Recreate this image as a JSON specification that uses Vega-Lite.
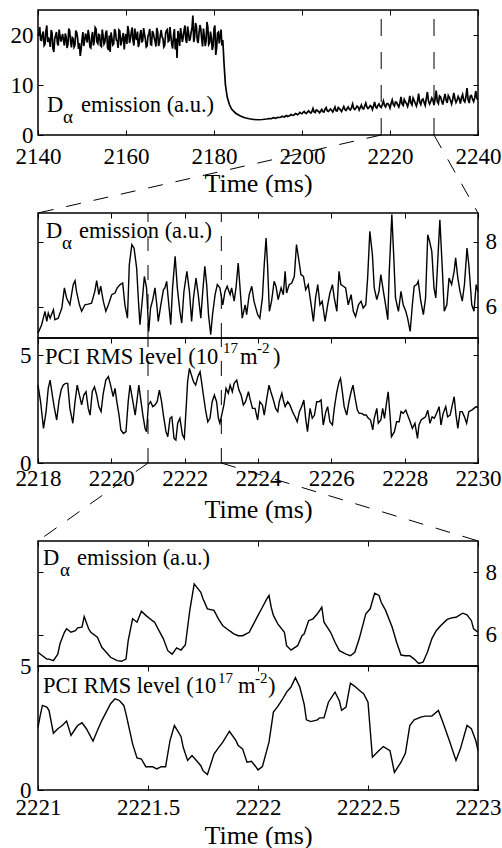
{
"$schema": "https://vega.github.io/schema/vega-lite/v6.json",
"padding": {"left": 9, "top": 8, "right": 0, "bottom": 0},
"config": {
 "font": "Liberation Serif",
 "style": {"guide-label": {"font": "Liberation Serif", "fontSize": 23, "fill": "black"}, "guide-title": {"font": "Liberation Serif", "fontSize": 26, "fill": "black", "fontWeight": "normal"}},
 "view": {"stroke": "black", "strokeWidth": 1.5},
 "axis": {"domain": false, "grid": false, "ticks": true, "tickColor": "black", "tickSize": -5, "tickWidth": 1, "labelFont": "Liberation Serif", "labelFontSize": 23, "labelColor": "black", "labelFlush": false, "labelOverlap": false, "titleFont": "Liberation Serif", "titleFontSize": 26, "titleFontWeight": "normal", "titleColor": "black"},
 "text": {"font": "Liberation Serif", "fontSize": 22.5, "color": "black", "align": "left", "baseline": "alphabetic"},
 "rule": {"color": "black"},
 "line": {"color": "black"}
},
"datasets": {
 "p1": [
  {"t":2140.0,"v":19.8},{"t":2140.4,"v":21.6},{"t":2140.8,"v":18.9},{"t":2141.2,"v":20.7},{"t":2141.6,"v":18.2},{"t":2142.0,"v":21.9},{"t":2142.4,"v":19.5},{"t":2142.8,"v":17.6},{"t":2143.2,"v":20.4},{"t":2143.6,"v":16.6},{"t":2144.0,"v":19.9},{"t":2144.4,"v":18.4},{"t":2144.8,"v":21.1},{"t":2145.2,"v":18.7},{"t":2145.6,"v":20.2},{"t":2146.0,"v":17.9},{"t":2146.4,"v":19.6},{"t":2146.8,"v":18.1},{"t":2147.2,"v":20.8},{"t":2147.6,"v":17.5},{"t":2148.0,"v":19.3},{"t":2148.4,"v":18.0},{"t":2148.8,"v":20.5},{"t":2149.2,"v":17.2},{"t":2149.6,"v":15.8},{"t":2150.0,"v":19.1},{"t":2150.4,"v":17.8},{"t":2150.8,"v":20.3},{"t":2151.2,"v":18.5},{"t":2151.6,"v":19.9},{"t":2152.0,"v":17.4},{"t":2152.4,"v":20.6},{"t":2152.8,"v":18.8},{"t":2153.2,"v":21.2},{"t":2153.6,"v":18.3},{"t":2154.0,"v":20.0},{"t":2154.4,"v":17.7},{"t":2154.8,"v":19.8},{"t":2155.2,"v":18.6},{"t":2155.6,"v":20.9},{"t":2156.0,"v":17.0},{"t":2156.4,"v":16.6},{"t":2156.8,"v":19.4},{"t":2157.2,"v":18.2},{"t":2157.6,"v":20.7},{"t":2158.0,"v":18.9},{"t":2158.4,"v":21.0},{"t":2158.8,"v":17.9},{"t":2159.2,"v":19.7},{"t":2159.6,"v":17.1},{"t":2160.0,"v":20.2},{"t":2160.4,"v":21.8},{"t":2160.8,"v":18.4},{"t":2161.2,"v":20.5},{"t":2161.6,"v":18.8},{"t":2162.0,"v":21.3},{"t":2162.4,"v":19.0},{"t":2162.8,"v":17.6},{"t":2163.2,"v":20.1},{"t":2163.6,"v":18.5},{"t":2164.0,"v":21.4},{"t":2164.4,"v":19.2},{"t":2164.8,"v":17.8},{"t":2165.2,"v":20.3},{"t":2165.6,"v":18.1},{"t":2166.0,"v":20.8},{"t":2166.4,"v":19.5},{"t":2166.8,"v":17.7},{"t":2167.2,"v":20.6},{"t":2167.6,"v":18.4},{"t":2168.0,"v":21.0},{"t":2168.4,"v":19.3},{"t":2168.8,"v":17.9},{"t":2169.2,"v":20.9},{"t":2169.6,"v":18.7},{"t":2170.0,"v":21.6},{"t":2170.4,"v":18.2},{"t":2170.8,"v":19.9},{"t":2171.2,"v":17.1},{"t":2171.6,"v":15.4},{"t":2172.0,"v":19.8},{"t":2172.4,"v":21.4},{"t":2172.8,"v":18.6},{"t":2173.2,"v":20.9},{"t":2173.6,"v":19.1},{"t":2174.0,"v":21.7},{"t":2174.4,"v":18.8},{"t":2174.8,"v":20.5},{"t":2175.2,"v":23.9},{"t":2175.6,"v":19.6},{"t":2176.0,"v":21.8},{"t":2176.4,"v":18.4},{"t":2176.8,"v":22.0},{"t":2177.2,"v":19.2},{"t":2177.6,"v":21.3},{"t":2178.0,"v":17.8},{"t":2178.4,"v":22.6},{"t":2178.8,"v":18.1},{"t":2179.2,"v":20.7},{"t":2179.6,"v":17.0},{"t":2180.0,"v":21.2},{"t":2180.4,"v":16.0},{"t":2180.8,"v":20.4},{"t":2181.2,"v":18.3},{"t":2181.6,"v":21.1},{"t":2182.0,"v":19.0},
  {"t":2140.2,"v":20.3},{"t":2140.6,"v":19.0},{"t":2141.0,"v":20.1},{"t":2141.4,"v":17.9},{"t":2141.8,"v":20.8},{"t":2142.2,"v":18.6},{"t":2142.6,"v":18.8},{"t":2143.0,"v":21.0},{"t":2143.4,"v":17.3},{"t":2143.8,"v":19.2},{"t":2144.2,"v":20.6},{"t":2144.6,"v":17.9},{"t":2145.0,"v":19.8},{"t":2145.4,"v":19.4},{"t":2145.8,"v":18.8},{"t":2146.2,"v":20.3},{"t":2146.6,"v":17.4},{"t":2147.0,"v":21.3},{"t":2147.4,"v":18.7},{"t":2147.8,"v":19.5},{"t":2148.2,"v":17.6},{"t":2148.6,"v":20.9},{"t":2149.0,"v":19.4},{"t":2149.4,"v":18.4},{"t":2149.8,"v":17.1},{"t":2150.2,"v":20.6},{"t":2150.6,"v":18.9},{"t":2151.0,"v":19.5},{"t":2151.4,"v":21.0},{"t":2151.8,"v":17.6},{"t":2152.2,"v":19.6},{"t":2152.6,"v":17.9},{"t":2153.0,"v":21.5},{"t":2153.4,"v":18.6},{"t":2153.8,"v":20.1},{"t":2154.2,"v":17.9},{"t":2154.6,"v":21.1},{"t":2155.0,"v":18.2},{"t":2155.4,"v":20.4},{"t":2155.8,"v":17.5},{"t":2156.2,"v":19.9},{"t":2156.6,"v":20.5},{"t":2157.0,"v":18.0},{"t":2157.4,"v":21.2},{"t":2157.8,"v":19.0},{"t":2158.2,"v":17.4},{"t":2158.6,"v":20.8},{"t":2159.0,"v":18.6},{"t":2159.4,"v":20.4},{"t":2159.8,"v":19.4},{"t":2160.2,"v":18.2},{"t":2160.6,"v":20.9},{"t":2161.0,"v":19.2},{"t":2161.4,"v":21.5},{"t":2161.8,"v":17.9},{"t":2162.2,"v":19.6},{"t":2162.6,"v":20.7},{"t":2163.0,"v":18.3},{"t":2163.4,"v":21.0},{"t":2163.8,"v":18.9},{"t":2164.2,"v":20.2},{"t":2164.6,"v":17.6},{"t":2165.0,"v":19.8},{"t":2165.4,"v":21.2},{"t":2165.8,"v":18.0},{"t":2166.2,"v":20.4},{"t":2166.6,"v":18.8},{"t":2167.0,"v":21.4},{"t":2167.4,"v":17.8},{"t":2167.8,"v":20.0},{"t":2168.2,"v":19.6},{"t":2168.6,"v":17.6},{"t":2169.0,"v":20.3},{"t":2169.4,"v":21.1},{"t":2169.8,"v":18.9},{"t":2170.2,"v":19.7},{"t":2170.6,"v":17.3},{"t":2171.0,"v":21.2},{"t":2171.4,"v":19.3},{"t":2171.8,"v":20.8},{"t":2172.2,"v":17.8},{"t":2172.6,"v":20.2},{"t":2173.0,"v":19.6},{"t":2173.4,"v":21.9},{"t":2173.8,"v":18.4},{"t":2174.2,"v":20.6},{"t":2174.6,"v":19.3},{"t":2175.0,"v":21.4},{"t":2175.4,"v":18.6},{"t":2175.8,"v":22.4},{"t":2176.2,"v":18.9},{"t":2176.6,"v":20.4},{"t":2177.0,"v":21.2},{"t":2177.4,"v":17.7},{"t":2177.8,"v":19.9},{"t":2178.2,"v":18.8},{"t":2178.6,"v":21.6},{"t":2179.0,"v":18.4},{"t":2179.4,"v":19.5},{"t":2179.8,"v":17.8},{"t":2180.2,"v":21.9},{"t":2180.6,"v":17.4},{"t":2181.0,"v":20.6},{"t":2181.4,"v":19.9},{"t":2181.8,"v":17.9},
  {"t":2182.3,"v":14.0},{"t":2182.6,"v":10.0},{"t":2183.0,"v":7.6},{"t":2183.5,"v":6.1},{"t":2184.0,"v":5.2},{"t":2184.5,"v":4.7},{"t":2185.0,"v":4.3},{"t":2186.0,"v":3.8},{"t":2187.0,"v":3.45},{"t":2188.0,"v":3.25},{"t":2189.0,"v":3.1},{"t":2190.0,"v":3.05},{"t":2191.0,"v":3.1},
  {"t":2191.5,"v":3.15},{"t":2192.0,"v":3.2},{"t":2192.5,"v":3.3},{"t":2193.0,"v":3.25},{"t":2193.5,"v":3.45},{"t":2194.0,"v":3.35},{"t":2194.5,"v":3.55},{"t":2195.0,"v":3.5},{"t":2195.5,"v":3.75},{"t":2196.0,"v":3.6},{"t":2196.5,"v":3.9},{"t":2197.0,"v":3.8},{"t":2197.5,"v":4.1},{"t":2198.0,"v":3.95},{"t":2198.5,"v":4.3},{"t":2199.0,"v":4.05},{"t":2199.5,"v":4.5},{"t":2200.0,"v":4.25},{"t":2200.5,"v":4.7},{"t":2201.0,"v":4.3},{"t":2201.5,"v":4.85},{"t":2202.0,"v":4.4},{"t":2202.5,"v":5.3},{"t":2203.0,"v":4.5},{"t":2203.5,"v":4.9},{"t":2204.0,"v":4.45},{"t":2204.5,"v":5.1},{"t":2205.0,"v":4.6},{"t":2205.5,"v":5.5},{"t":2206.0,"v":4.7},{"t":2206.5,"v":5.2},{"t":2207.0,"v":4.6},{"t":2207.5,"v":5.6},{"t":2208.0,"v":4.8},{"t":2208.5,"v":5.3},{"t":2209.0,"v":4.7},{"t":2209.5,"v":5.7},{"t":2210.0,"v":4.9},{"t":2210.5,"v":5.6},{"t":2211.0,"v":5.0},{"t":2211.5,"v":6.2},{"t":2212.0,"v":5.1},{"t":2212.5,"v":5.8},{"t":2213.0,"v":5.0},{"t":2213.5,"v":6.0},{"t":2214.0,"v":5.2},{"t":2214.5,"v":6.4},{"t":2215.0,"v":5.3},{"t":2215.5,"v":5.9},{"t":2216.0,"v":5.1},{"t":2216.5,"v":6.6},{"t":2217.0,"v":5.4},{"t":2217.5,"v":6.2},{"t":2218.0,"v":5.5},{"t":2218.5,"v":6.8},{"t":2219.0,"v":5.6},{"t":2219.5,"v":6.3},{"t":2220.0,"v":5.4},{"t":2220.5,"v":7.0},{"t":2221.0,"v":5.8},{"t":2221.5,"v":6.5},{"t":2222.0,"v":5.6},{"t":2222.5,"v":7.6},{"t":2223.0,"v":5.9},{"t":2223.5,"v":6.6},{"t":2224.0,"v":5.7},{"t":2224.5,"v":7.8},{"t":2225.0,"v":6.0},{"t":2225.5,"v":6.9},{"t":2226.0,"v":5.8},{"t":2226.5,"v":8.3},{"t":2227.0,"v":6.1},{"t":2227.5,"v":7.2},{"t":2228.0,"v":5.9},{"t":2228.5,"v":8.6},{"t":2229.0,"v":6.2},{"t":2229.5,"v":7.4},{"t":2230.0,"v":6.0},{"t":2230.5,"v":8.9},{"t":2231.0,"v":6.3},{"t":2231.5,"v":7.6},{"t":2232.0,"v":6.1},{"t":2232.5,"v":8.2},{"t":2233.0,"v":6.4},{"t":2233.5,"v":7.5},{"t":2234.0,"v":6.2},{"t":2234.5,"v":8.4},{"t":2235.0,"v":6.5},{"t":2235.5,"v":7.7},{"t":2236.0,"v":6.3},{"t":2236.5,"v":8.1},{"t":2237.0,"v":6.6},{"t":2237.5,"v":9.4},{"t":2238.0,"v":6.4},{"t":2238.5,"v":7.9},{"t":2239.0,"v":6.7},{"t":2239.5,"v":8.8},{"t":2240.0,"v":7.1},
  {"t":2195.25,"v":3.6},{"t":2195.75,"v":3.65},{"t":2196.25,"v":3.8},{"t":2196.75,"v":3.7},{"t":2197.25,"v":3.9},{"t":2197.75,"v":4.0},{"t":2198.25,"v":4.05},{"t":2198.75,"v":4.2},{"t":2199.25,"v":4.2},{"t":2199.75,"v":4.35},{"t":2200.25,"v":4.55},{"t":2200.75,"v":4.4},{"t":2201.25,"v":4.6},{"t":2201.75,"v":4.55},{"t":2202.25,"v":4.7},{"t":2202.75,"v":4.6},{"t":2203.25,"v":5.0},{"t":2203.75,"v":4.7},{"t":2204.25,"v":4.8},{"t":2204.75,"v":4.65},{"t":2205.25,"v":5.2},{"t":2205.75,"v":4.8},{"t":2206.25,"v":5.0},{"t":2206.75,"v":4.9},{"t":2207.25,"v":5.1},{"t":2207.75,"v":4.85},{"t":2208.25,"v":5.5},{"t":2208.75,"v":5.0},{"t":2209.25,"v":5.2},{"t":2209.75,"v":5.1},{"t":2210.25,"v":5.3},{"t":2210.75,"v":5.15},{"t":2211.25,"v":5.5},{"t":2211.75,"v":5.3},{"t":2212.25,"v":5.4},{"t":2212.75,"v":5.6},{"t":2213.25,"v":5.5},{"t":2213.75,"v":5.3},{"t":2214.25,"v":5.8},{"t":2214.75,"v":5.6},{"t":2215.25,"v":5.5},{"t":2215.75,"v":5.7},{"t":2216.25,"v":5.8},{"t":2216.75,"v":5.6},{"t":2217.25,"v":5.9},{"t":2217.75,"v":5.7},{"t":2218.25,"v":6.1},{"t":2218.75,"v":5.9},{"t":2219.25,"v":6.2},{"t":2219.75,"v":6.0},{"t":2220.25,"v":6.3},{"t":2220.75,"v":6.1},{"t":2221.25,"v":6.6},{"t":2221.75,"v":6.0},{"t":2222.25,"v":6.4},{"t":2222.75,"v":6.2},{"t":2223.25,"v":7.1},{"t":2223.75,"v":6.3},{"t":2224.25,"v":6.5},{"t":2224.75,"v":6.4},{"t":2225.25,"v":7.4},{"t":2225.75,"v":6.3},{"t":2226.25,"v":6.7},{"t":2226.75,"v":6.6},{"t":2227.25,"v":7.0},{"t":2227.75,"v":6.5},{"t":2228.25,"v":7.3},{"t":2228.75,"v":6.8},{"t":2229.25,"v":6.7},{"t":2229.75,"v":7.0},{"t":2230.25,"v":7.2},{"t":2230.75,"v":6.7},{"t":2231.25,"v":7.8},{"t":2231.75,"v":6.8},{"t":2232.25,"v":7.2},{"t":2232.75,"v":7.0},{"t":2233.25,"v":7.9},{"t":2233.75,"v":6.9},{"t":2234.25,"v":7.1},{"t":2234.75,"v":7.3},{"t":2235.25,"v":7.0},{"t":2235.75,"v":7.2},{"t":2236.25,"v":7.5},{"t":2236.75,"v":6.9},{"t":2237.25,"v":7.6},{"t":2237.75,"v":7.1},{"t":2238.25,"v":7.8},{"t":2238.75,"v":7.2},{"t":2239.25,"v":7.4},{"t":2239.75,"v":7.3}
 ],
 "da": [
  {"t":2218.00,"v":5.19},{"t":2218.10,"v":5.45},{"t":2218.19,"v":5.86},{"t":2218.24,"v":5.55},{"t":2218.28,"v":5.81},{"t":2218.33,"v":5.65},{"t":2218.42,"v":5.91},{"t":2218.46,"v":5.60},{"t":2218.55,"v":5.65},{"t":2218.65,"v":5.96},{"t":2218.72,"v":6.58},{"t":2218.78,"v":6.27},{"t":2218.87,"v":6.06},{"t":2218.96,"v":6.68},{"t":2219.01,"v":6.80},{"t":2219.05,"v":6.47},{"t":2219.13,"v":6.06},{"t":2219.19,"v":5.86},{"t":2219.28,"v":6.06},{"t":2219.37,"v":6.08},{"t":2219.46,"v":6.11},{"t":2219.55,"v":6.47},{"t":2219.60,"v":6.80},{"t":2219.66,"v":6.37},{"t":2219.71,"v":6.63},{"t":2219.78,"v":6.17},{"t":2219.85,"v":5.86},{"t":2219.92,"v":6.06},{"t":2220.01,"v":6.37},{"t":2220.10,"v":6.42},{"t":2220.16,"v":6.58},{"t":2220.24,"v":6.68},{"t":2220.31,"v":6.73},{"t":2220.37,"v":6.06},{"t":2220.44,"v":5.65},{"t":2220.49,"v":7.29},{"t":2220.56,"v":7.91},{"t":2220.62,"v":7.80},{"t":2220.69,"v":7.19},{"t":2220.74,"v":6.17},{"t":2220.78,"v":5.45},{"t":2220.85,"v":6.27},{"t":2220.90,"v":6.93},{"t":2220.96,"v":6.58},{"t":2221.02,"v":5.24},{"t":2221.07,"v":5.96},{"t":2221.13,"v":6.22},{"t":2221.19,"v":6.58},{"t":2221.24,"v":6.06},{"t":2221.28,"v":5.55},{"t":2221.35,"v":6.06},{"t":2221.42,"v":6.52},{"t":2221.46,"v":6.58},{"t":2221.51,"v":6.78},{"t":2221.55,"v":6.27},{"t":2221.62,"v":5.45},{"t":2221.67,"v":6.58},{"t":2221.74,"v":7.55},{"t":2221.80,"v":6.58},{"t":2221.87,"v":5.86},{"t":2221.92,"v":5.50},{"t":2221.98,"v":6.47},{"t":2222.06,"v":7.09},{"t":2222.13,"v":6.47},{"t":2222.19,"v":5.55},{"t":2222.24,"v":6.27},{"t":2222.31,"v":6.88},{"t":2222.37,"v":6.37},{"t":2222.44,"v":5.65},{"t":2222.49,"v":6.42},{"t":2222.55,"v":7.24},{"t":2222.60,"v":6.68},{"t":2222.65,"v":5.76},{"t":2222.71,"v":5.14},{"t":2222.76,"v":5.76},{"t":2222.83,"v":6.37},{"t":2222.89,"v":6.68},{"t":2222.96,"v":6.58},{"t":2223.04,"v":6.06},{"t":2223.10,"v":6.47},{"t":2223.16,"v":6.63},{"t":2223.24,"v":6.37},{"t":2223.28,"v":6.58},{"t":2223.35,"v":6.17},{"t":2223.40,"v":6.58},{"t":2223.46,"v":7.34},{"t":2223.51,"v":6.58},{"t":2223.57,"v":5.65},{"t":2223.65,"v":6.06},{"t":2223.69,"v":5.76},{"t":2223.76,"v":6.37},{"t":2223.83,"v":6.63},{"t":2223.89,"v":6.17},
  {"t":2223.99,"v":5.76},{"t":2224.05,"v":5.65},{"t":2224.12,"v":6.27},{"t":2224.17,"v":7.29},{"t":2224.22,"v":8.11},{"t":2224.26,"v":7.29},{"t":2224.31,"v":5.86},{"t":2224.37,"v":6.17},{"t":2224.44,"v":6.78},{"t":2224.49,"v":6.63},{"t":2224.55,"v":6.22},{"t":2224.63,"v":6.58},{"t":2224.69,"v":6.37},{"t":2224.74,"v":7.09},{"t":2224.78,"v":6.42},{"t":2224.85,"v":6.68},{"t":2224.92,"v":6.73},{"t":2224.99,"v":6.93},{"t":2225.05,"v":7.91},{"t":2225.12,"v":7.39},{"t":2225.17,"v":6.99},{"t":2225.24,"v":6.93},{"t":2225.30,"v":6.52},{"t":2225.37,"v":6.68},{"t":2225.45,"v":6.06},{"t":2225.51,"v":5.55},{"t":2225.57,"v":6.27},{"t":2225.63,"v":6.68},{"t":2225.69,"v":6.06},{"t":2225.75,"v":6.17},{"t":2225.83,"v":5.55},{"t":2225.90,"v":6.06},{"t":2225.96,"v":6.42},{"t":2226.03,"v":6.68},{"t":2226.08,"v":6.27},{"t":2226.15,"v":5.86},{"t":2226.21,"v":7.09},{"t":2226.26,"v":6.68},{"t":2226.33,"v":6.63},{"t":2226.39,"v":6.58},{"t":2226.46,"v":6.06},{"t":2226.54,"v":6.37},{"t":2226.60,"v":5.86},{"t":2226.66,"v":5.70},{"t":2226.74,"v":6.06},{"t":2226.81,"v":6.17},{"t":2226.87,"v":5.96},{"t":2226.94,"v":6.06},{"t":2226.99,"v":6.88},{"t":2227.05,"v":8.32},{"t":2227.12,"v":7.60},{"t":2227.17,"v":6.58},{"t":2227.24,"v":6.22},{"t":2227.30,"v":6.47},{"t":2227.35,"v":6.99},{"t":2227.42,"v":6.47},{"t":2227.48,"v":6.06},{"t":2227.54,"v":5.60},{"t":2227.58,"v":7.09},{"t":2227.65,"v":8.83},{"t":2227.70,"v":7.60},{"t":2227.75,"v":6.27},{"t":2227.83,"v":5.86},{"t":2227.90,"v":6.47},{"t":2227.96,"v":6.06},{"t":2228.03,"v":5.86},{"t":2228.08,"v":5.65},{"t":2228.15,"v":5.24},{"t":2228.21,"v":6.06},{"t":2228.26,"v":6.63},{"t":2228.33,"v":6.68},{"t":2228.37,"v":6.78},{"t":2228.44,"v":6.17},{"t":2228.51,"v":5.76},{"t":2228.57,"v":6.27},{"t":2228.63,"v":8.21},{"t":2228.68,"v":8.01},{"t":2228.74,"v":7.70},{"t":2228.80,"v":6.58},{"t":2228.85,"v":6.27},{"t":2228.92,"v":7.80},{"t":2228.96,"v":8.67},{"t":2229.03,"v":7.09},{"t":2229.08,"v":5.86},{"t":2229.15,"v":6.06},{"t":2229.21,"v":6.88},{"t":2229.28,"v":6.68},{"t":2229.35,"v":7.09},{"t":2229.39,"v":7.50},{"t":2229.45,"v":6.88},{"t":2229.51,"v":6.47},{"t":2229.57,"v":6.17},{"t":2229.63,"v":6.68},{"t":2229.70,"v":7.80},{"t":2229.75,"v":7.29},{"t":2229.83,"v":6.06},{"t":2229.89,"v":5.86},{"t":2229.95,"v":6.68},{"t":2230.00,"v":6.47}
 ],
 "pa": [
  {"t":2218.00,"v":3.61},{"t":2218.07,"v":2.84},{"t":2218.15,"v":1.60},{"t":2218.22,"v":2.38},{"t":2218.28,"v":3.46},{"t":2218.33,"v":3.84},{"t":2218.39,"v":3.15},{"t":2218.44,"v":2.61},{"t":2218.51,"v":1.99},{"t":2218.57,"v":2.84},{"t":2218.63,"v":3.38},{"t":2218.69,"v":3.61},{"t":2218.75,"v":3.69},{"t":2218.81,"v":3.69},{"t":2218.87,"v":2.53},{"t":2218.95,"v":1.84},{"t":2219.01,"v":2.84},{"t":2219.07,"v":3.61},{"t":2219.15,"v":2.99},{"t":2219.19,"v":2.69},{"t":2219.25,"v":3.15},{"t":2219.31,"v":3.30},{"t":2219.37,"v":2.53},{"t":2219.42,"v":2.22},{"t":2219.48,"v":3.30},{"t":2219.54,"v":3.53},{"t":2219.60,"v":3.15},{"t":2219.66,"v":2.61},{"t":2219.72,"v":2.38},{"t":2219.78,"v":3.23},{"t":2219.85,"v":3.84},{"t":2219.92,"v":4.00},{"t":2219.98,"v":3.61},{"t":2220.05,"v":3.07},{"t":2220.10,"v":3.46},{"t":2220.15,"v":2.84},{"t":2220.21,"v":2.22},{"t":2220.26,"v":1.53},{"t":2220.33,"v":1.37},{"t":2220.40,"v":1.45},{"t":2220.46,"v":2.84},{"t":2220.51,"v":3.61},{"t":2220.58,"v":2.92},{"t":2220.65,"v":2.22},{"t":2220.69,"v":2.76},{"t":2220.75,"v":3.61},{"t":2220.81,"v":2.84},{"t":2220.86,"v":2.22},{"t":2220.92,"v":1.60},{"t":2220.96,"v":1.45},{"t":2221.01,"v":2.69},{"t":2221.07,"v":2.84},{"t":2221.13,"v":2.61},{"t":2221.19,"v":2.69},{"t":2221.25,"v":2.84},{"t":2221.31,"v":3.38},{"t":2221.37,"v":2.84},{"t":2221.42,"v":2.22},{"t":2221.49,"v":1.45},{"t":2221.54,"v":1.22},{"t":2221.60,"v":2.07},{"t":2221.65,"v":2.14},{"t":2221.71,"v":1.14},{"t":2221.76,"v":1.06},{"t":2221.81,"v":1.84},{"t":2221.87,"v":2.07},{"t":2221.94,"v":1.30},{"t":2221.99,"v":1.14},{"t":2222.04,"v":2.53},{"t":2222.08,"v":3.77},{"t":2222.13,"v":4.38},{"t":2222.17,"v":4.15},{"t":2222.24,"v":3.77},{"t":2222.30,"v":3.61},{"t":2222.36,"v":4.00},{"t":2222.42,"v":4.23},{"t":2222.46,"v":3.77},{"t":2222.51,"v":3.15},{"t":2222.57,"v":2.45},{"t":2222.63,"v":1.91},{"t":2222.69,"v":2.07},{"t":2222.75,"v":2.84},{"t":2222.81,"v":3.15},{"t":2222.87,"v":2.84},{"t":2222.92,"v":2.07},{"t":2222.96,"v":1.84},{"t":2223.01,"v":2.22},{"t":2223.07,"v":2.69},{"t":2223.13,"v":3.46},{"t":2223.19,"v":3.23},{"t":2223.24,"v":3.61},{"t":2223.30,"v":3.30},{"t":2223.35,"v":3.69},{"t":2223.42,"v":3.84},{"t":2223.48,"v":3.38},{"t":2223.54,"v":3.15},{"t":2223.60,"v":2.69},{"t":2223.66,"v":2.84},{"t":2223.74,"v":3.30},{"t":2223.78,"v":2.99},{"t":2223.85,"v":2.53},{"t":2223.92,"v":2.53},
  {"t":2223.99,"v":1.99},{"t":2224.05,"v":2.84},{"t":2224.12,"v":2.69},{"t":2224.17,"v":2.22},{"t":2224.24,"v":2.99},{"t":2224.30,"v":3.61},{"t":2224.35,"v":3.30},{"t":2224.42,"v":2.92},{"t":2224.48,"v":2.53},{"t":2224.54,"v":2.38},{"t":2224.58,"v":2.84},{"t":2224.65,"v":3.23},{"t":2224.69,"v":2.92},{"t":2224.74,"v":2.61},{"t":2224.81,"v":2.84},{"t":2224.87,"v":2.69},{"t":2224.94,"v":2.38},{"t":2225.01,"v":2.14},{"t":2225.07,"v":1.91},{"t":2225.13,"v":2.38},{"t":2225.19,"v":2.61},{"t":2225.25,"v":2.92},{"t":2225.30,"v":2.07},{"t":2225.35,"v":1.45},{"t":2225.42,"v":2.53},{"t":2225.48,"v":2.07},{"t":2225.54,"v":2.22},{"t":2225.60,"v":2.84},{"t":2225.66,"v":2.84},{"t":2225.72,"v":2.92},{"t":2225.78,"v":1.76},{"t":2225.85,"v":2.38},{"t":2225.90,"v":2.61},{"t":2225.96,"v":1.91},{"t":2226.03,"v":1.76},{"t":2226.08,"v":2.53},{"t":2226.15,"v":3.30},{"t":2226.21,"v":3.77},{"t":2226.25,"v":3.92},{"t":2226.30,"v":3.30},{"t":2226.35,"v":2.61},{"t":2226.42,"v":2.22},{"t":2226.48,"v":2.84},{"t":2226.54,"v":3.30},{"t":2226.59,"v":3.61},{"t":2226.65,"v":2.99},{"t":2226.71,"v":2.45},{"t":2226.76,"v":2.30},{"t":2226.83,"v":2.30},{"t":2226.89,"v":2.22},{"t":2226.95,"v":2.22},{"t":2227.01,"v":2.07},{"t":2227.07,"v":1.99},{"t":2227.13,"v":1.53},{"t":2227.17,"v":2.07},{"t":2227.24,"v":2.53},{"t":2227.28,"v":1.84},{"t":2227.35,"v":1.99},{"t":2227.40,"v":2.53},{"t":2227.45,"v":2.07},{"t":2227.51,"v":2.84},{"t":2227.55,"v":3.30},{"t":2227.60,"v":2.22},{"t":2227.64,"v":1.22},{"t":2227.72,"v":1.45},{"t":2227.78,"v":1.91},{"t":2227.85,"v":1.91},{"t":2227.90,"v":2.38},{"t":2227.96,"v":2.30},{"t":2228.03,"v":2.45},{"t":2228.08,"v":2.22},{"t":2228.15,"v":1.91},{"t":2228.21,"v":1.60},{"t":2228.28,"v":1.84},{"t":2228.35,"v":1.14},{"t":2228.39,"v":1.76},{"t":2228.45,"v":1.99},{"t":2228.51,"v":2.07},{"t":2228.57,"v":2.14},{"t":2228.63,"v":2.45},{"t":2228.69,"v":1.84},{"t":2228.75,"v":2.14},{"t":2228.81,"v":2.07},{"t":2228.87,"v":2.30},{"t":2228.94,"v":2.61},{"t":2228.99,"v":1.76},{"t":2229.05,"v":2.30},{"t":2229.12,"v":2.61},{"t":2229.17,"v":2.14},{"t":2229.24,"v":2.22},{"t":2229.30,"v":2.69},{"t":2229.35,"v":3.07},{"t":2229.40,"v":2.22},{"t":2229.45,"v":1.60},{"t":2229.51,"v":2.38},{"t":2229.57,"v":2.38},{"t":2229.63,"v":2.14},{"t":2229.69,"v":1.84},{"t":2229.75,"v":2.38},{"t":2229.83,"v":2.45},{"t":2229.89,"v":2.53},{"t":2229.95,"v":2.61},{"t":2230.00,"v":2.56}
 ],
 "db": [
  {"t":2221.00,"v":5.44},{"t":2221.02,"v":5.33},{"t":2221.04,"v":5.22},{"t":2221.05,"v":5.22},{"t":2221.07,"v":5.17},{"t":2221.09,"v":5.38},{"t":2221.10,"v":5.71},{"t":2221.12,"v":6.08},{"t":2221.13,"v":6.19},{"t":2221.15,"v":6.08},{"t":2221.17,"v":6.13},{"t":2221.18,"v":6.22},{"t":2221.20,"v":6.24},{"t":2221.21,"v":6.58},{"t":2221.23,"v":6.19},{"t":2221.24,"v":6.08},{"t":2221.27,"v":5.92},{"t":2221.29,"v":5.60},{"t":2221.31,"v":5.44},{"t":2221.33,"v":5.28},{"t":2221.36,"v":5.17},{"t":2221.38,"v":5.15},{"t":2221.40,"v":5.22},{"t":2221.41,"v":5.81},{"t":2221.43,"v":6.51},{"t":2221.45,"v":6.40},{"t":2221.47,"v":6.75},{"t":2221.49,"v":6.62},{"t":2221.52,"v":6.45},{"t":2221.53,"v":6.40},{"t":2221.55,"v":6.13},{"t":2221.57,"v":5.87},{"t":2221.59,"v":5.49},{"t":2221.61,"v":5.38},{"t":2221.63,"v":5.58},{"t":2221.65,"v":5.51},{"t":2221.67,"v":5.68},{"t":2221.69,"v":6.78},{"t":2221.71,"v":7.63},{"t":2221.74,"v":7.36},{"t":2221.75,"v":7.15},{"t":2221.77,"v":6.83},{"t":2221.80,"v":6.78},{"t":2221.82,"v":6.51},{"t":2221.84,"v":6.29},{"t":2221.87,"v":6.13},{"t":2221.89,"v":6.03},{"t":2221.91,"v":5.97},{"t":2221.93,"v":5.97},{"t":2221.96,"v":6.08},{"t":2221.98,"v":6.35},{"t":2222.00,"v":6.62},{"t":2222.02,"v":6.88},{"t":2222.04,"v":7.15},{"t":2222.05,"v":7.26},{"t":2222.06,"v":6.88},{"t":2222.07,"v":6.62},{"t":2222.09,"v":6.35},{"t":2222.12,"v":6.08},{"t":2222.13,"v":5.65},{"t":2222.15,"v":5.51},{"t":2222.18,"v":5.65},{"t":2222.20,"v":5.97},{"t":2222.21,"v":6.03},{"t":2222.23,"v":6.45},{"t":2222.25,"v":6.51},{"t":2222.27,"v":6.67},{"t":2222.29,"v":6.88},{"t":2222.30,"v":6.40},{"t":2222.33,"v":6.08},{"t":2222.35,"v":5.76},{"t":2222.37,"v":5.49},{"t":2222.40,"v":5.38},{"t":2222.42,"v":5.33},{"t":2222.44,"v":5.44},{"t":2222.46,"v":5.87},{"t":2222.49,"v":6.67},{"t":2222.51,"v":6.83},{"t":2222.53,"v":7.33},{"t":2222.55,"v":7.26},{"t":2222.56,"v":7.04},{"t":2222.58,"v":6.78},{"t":2222.61,"v":6.24},{"t":2222.63,"v":5.76},{"t":2222.65,"v":5.35},{"t":2222.67,"v":5.33},{"t":2222.69,"v":5.33},{"t":2222.71,"v":5.22},{"t":2222.73,"v":5.08},{"t":2222.75,"v":5.12},{"t":2222.77,"v":5.44},{"t":2222.79,"v":5.87},{"t":2222.81,"v":6.13},{"t":2222.83,"v":6.29},{"t":2222.86,"v":6.49},{"t":2222.88,"v":6.54},{"t":2222.90,"v":6.56},{"t":2222.93,"v":6.69},{"t":2222.95,"v":6.64},{"t":2222.97,"v":6.45},{"t":2222.98,"v":6.19},{"t":2223.00,"v":6.08}
 ],
 "pb": [
  {"t":2221.00,"v":2.53},{"t":2221.01,"v":3.00},{"t":2221.02,"v":3.41},{"t":2221.04,"v":3.34},{"t":2221.05,"v":3.21},{"t":2221.07,"v":2.29},{"t":2221.09,"v":2.47},{"t":2221.11,"v":2.60},{"t":2221.13,"v":2.78},{"t":2221.15,"v":2.20},{"t":2221.17,"v":2.47},{"t":2221.18,"v":2.60},{"t":2221.20,"v":2.71},{"t":2221.22,"v":2.47},{"t":2221.25,"v":1.97},{"t":2221.27,"v":2.40},{"t":2221.29,"v":2.80},{"t":2221.31,"v":3.14},{"t":2221.33,"v":3.48},{"t":2221.35,"v":3.68},{"t":2221.37,"v":3.61},{"t":2221.39,"v":3.41},{"t":2221.40,"v":3.07},{"t":2221.42,"v":2.26},{"t":2221.43,"v":1.86},{"t":2221.45,"v":1.29},{"t":2221.47,"v":1.25},{"t":2221.49,"v":0.94},{"t":2221.52,"v":0.94},{"t":2221.54,"v":0.85},{"t":2221.56,"v":0.94},{"t":2221.58,"v":0.94},{"t":2221.60,"v":1.99},{"t":2221.62,"v":2.60},{"t":2221.65,"v":2.16},{"t":2221.66,"v":1.72},{"t":2221.68,"v":1.19},{"t":2221.70,"v":1.39},{"t":2221.72,"v":1.19},{"t":2221.74,"v":0.98},{"t":2221.75,"v":0.78},{"t":2221.77,"v":0.62},{"t":2221.80,"v":1.45},{"t":2221.82,"v":1.70},{"t":2221.84,"v":1.93},{"t":2221.87,"v":2.37},{"t":2221.90,"v":1.99},{"t":2221.91,"v":1.79},{"t":2221.93,"v":1.66},{"t":2221.95,"v":1.12},{"t":2221.97,"v":1.16},{"t":2221.99,"v":0.94},{"t":2222.00,"v":0.81},{"t":2222.02,"v":0.94},{"t":2222.05,"v":1.93},{"t":2222.07,"v":3.14},{"t":2222.09,"v":3.37},{"t":2222.11,"v":3.64},{"t":2222.13,"v":3.95},{"t":2222.15,"v":4.15},{"t":2222.17,"v":4.53},{"t":2222.19,"v":4.15},{"t":2222.21,"v":3.45},{"t":2222.22,"v":2.83},{"t":2222.24,"v":2.76},{"t":2222.27,"v":2.83},{"t":2222.28,"v":2.91},{"t":2222.30,"v":2.91},{"t":2222.32,"v":3.54},{"t":2222.35,"v":3.95},{"t":2222.37,"v":3.59},{"t":2222.38,"v":3.21},{"t":2222.40,"v":3.34},{"t":2222.42,"v":4.31},{"t":2222.44,"v":4.18},{"t":2222.46,"v":4.02},{"t":2222.48,"v":3.88},{"t":2222.50,"v":3.54},{"t":2222.52,"v":1.32},{"t":2222.55,"v":1.59},{"t":2222.57,"v":1.75},{"t":2222.60,"v":1.59},{"t":2222.62,"v":0.71},{"t":2222.65,"v":1.12},{"t":2222.67,"v":1.48},{"t":2222.69,"v":2.60},{"t":2222.71,"v":2.83},{"t":2222.74,"v":2.94},{"t":2222.76,"v":2.98},{"t":2222.79,"v":2.98},{"t":2222.82,"v":3.21},{"t":2222.84,"v":2.74},{"t":2222.87,"v":1.99},{"t":2222.90,"v":1.19},{"t":2222.92,"v":1.66},{"t":2222.95,"v":2.60},{"t":2222.97,"v":2.47},{"t":2222.99,"v":1.99},{"t":2223.00,"v":1.59}
 ]
},
"bounds": "flush",
"spacing": 0,
"vconcat": [
 {
  "width": 440, "height": 125,
  "resolve": {"axis": {"x": "independent", "y": "independent"}},
  "layer": [
   {"data": {"name": "p1"}, "mark": {"type": "line", "strokeWidth": 1.7},
    "encoding": {
     "x": {"field": "t", "type": "quantitative", "scale": {"domain": [2140, 2240], "nice": false, "zero": false},
           "axis": {"orient": "bottom", "values": [2140, 2160, 2180, 2200, 2220, 2240], "format": "d", "labelFont": "Liberation Serif", "title": "Time (ms)", "labelPadding": 15, "titlePadding": 2}},
     "y": {"field": "v", "type": "quantitative", "scale": {"domain": [0, 25], "nice": false, "zero": false},
           "axis": {"orient": "left", "values": [0, 10, 20], "format": "d", "labelFont": "Liberation Serif", "title": null, "labelPadding": 10}}}},
   {"data": {"values": [{}]}, "mark": {"type": "rule", "strokeWidth": 1, "strokeDash": [17, 16]},
    "encoding": {
     "x": {"datum": 2218, "axis": {"orient": "top", "values": [2140, 2160, 2180, 2200, 2220, 2240], "labels": false, "title": null}},
     "y": {"datum": 0, "axis": {"orient": "right", "values": [0, 10, 20], "labels": false, "title": null}},
     "y2": {"datum": 25}}},
   {"data": {"values": [{}]}, "mark": {"type": "rule", "strokeWidth": 1, "strokeDash": [17, 16]},
    "encoding": {"x": {"datum": 2230, "axis": null}, "y": {"datum": 0, "axis": null}, "y2": {"datum": 25}}},
   {"data": {"values": [{}]}, "mark": {"type": "rule", "strokeWidth": 1, "strokeDash": [15, 13], "clip": false},
    "encoding": {"x": {"datum": 2218, "axis": null}, "y": {"datum": 0, "axis": null}, "x2": {"datum": 2140}, "y2": {"datum": -15.6}}},
   {"data": {"values": [{}]}, "mark": {"type": "rule", "strokeWidth": 1, "strokeDash": [15, 13], "clip": false},
    "encoding": {"x": {"datum": 2230, "axis": null}, "y": {"datum": 0, "axis": null}, "x2": {"datum": 2240}, "y2": {"datum": -15.6}}},
   {"data": {"values": [{}]}, "mark": {"type": "text", "text": "D", "dx": 9},
    "encoding": {"x": {"datum": 2140, "axis": null}, "y": {"datum": 4.6, "axis": null}}},
   {"data": {"values": [{}]}, "mark": {"type": "text", "text": "α", "dx": 25, "dy": 11, "fontSize": 19},
    "encoding": {"x": {"datum": 2140, "axis": null}, "y": {"datum": 4.6, "axis": null}}},
   {"data": {"values": [{}]}, "mark": {"type": "text", "text": "emission (a.u.)", "dx": 43},
    "encoding": {"x": {"datum": 2140, "axis": null}, "y": {"datum": 4.6, "axis": null}}}
  ]
 },
 {"width": 440, "height": 78, "view": {"stroke": null}, "data": {"values": [{}]}, "mark": {"type": "text", "text": ""}, "encoding": {}},
 {
  "width": 440, "height": 125,
  "resolve": {"axis": {"x": "independent", "y": "independent"}},
  "layer": [
   {"data": {"name": "da"}, "mark": {"type": "line", "strokeWidth": 1.4},
    "encoding": {
     "x": {"field": "t", "type": "quantitative", "scale": {"domain": [2218, 2230], "nice": false, "zero": false},
           "axis": {"orient": "top", "values": [2218, 2220, 2222, 2224, 2226, 2228, 2230], "labels": false, "title": null}},
     "y": {"field": "v", "type": "quantitative", "scale": {"domain": [5.04, 8.88], "nice": false, "zero": false},
           "axis": {"orient": "right", "values": [6, 8], "format": "d", "labelFont": "Liberation Serif", "title": null, "labelPadding": 12}}}},
   {"data": {"values": [{}]}, "mark": {"type": "rule", "strokeWidth": 1, "strokeDash": [15, 14]},
    "encoding": {"x": {"datum": 2221, "axis": null},
                 "y": {"datum": 5.04, "axis": {"orient": "left", "values": [6, 8], "labels": false, "title": null}},
                 "y2": {"datum": 8.88}}},
   {"data": {"values": [{}]}, "mark": {"type": "rule", "strokeWidth": 1, "strokeDash": [15, 14]},
    "encoding": {"x": {"datum": 2223, "axis": null}, "y": {"datum": 5.04, "axis": null}, "y2": {"datum": 8.88}}},
   {"data": {"values": [{}]}, "mark": {"type": "text", "text": "D", "dx": 8},
    "encoding": {"x": {"datum": 2218, "axis": null}, "y": {"datum": 8.11, "axis": null}}},
   {"data": {"values": [{}]}, "mark": {"type": "text", "text": "α", "dx": 24, "dy": 11, "fontSize": 19},
    "encoding": {"x": {"datum": 2218, "axis": null}, "y": {"datum": 8.11, "axis": null}}},
   {"data": {"values": [{}]}, "mark": {"type": "text", "text": "emission (a.u.)", "dx": 41},
    "encoding": {"x": {"datum": 2218, "axis": null}, "y": {"datum": 8.11, "axis": null}}}
  ]
 },
 {
  "width": 440, "height": 125,
  "resolve": {"axis": {"x": "independent", "y": "independent"}},
  "layer": [
   {"data": {"name": "pa"}, "mark": {"type": "line", "strokeWidth": 1.4},
    "encoding": {
     "x": {"field": "t", "type": "quantitative", "scale": {"domain": [2218, 2230], "nice": false, "zero": false},
           "axis": {"orient": "bottom", "values": [2218, 2220, 2222, 2224, 2226, 2228, 2230], "format": "d", "labelFont": "Liberation Serif", "title": "Time (ms)", "labelPadding": 9, "titlePadding": 6}},
     "y": {"field": "v", "type": "quantitative", "scale": {"domain": [0, 5.79], "nice": false, "zero": false},
           "axis": {"orient": "left", "values": [0, 5], "format": "d", "labelFont": "Liberation Serif", "title": null, "labelPadding": 12}}}},
   {"data": {"values": [{}]}, "mark": {"type": "rule", "strokeWidth": 1, "strokeDash": [15, 14]},
    "encoding": {"x": {"datum": 2221, "axis": {"orient": "top", "values": [2218, 2220, 2222, 2224, 2226, 2228, 2230], "labels": false, "title": null}},
                 "y": {"datum": 0, "axis": {"orient": "right", "values": [0, 5], "labels": false, "title": null}},
                 "y2": {"datum": 5.79}}},
   {"data": {"values": [{}]}, "mark": {"type": "rule", "strokeWidth": 1, "strokeDash": [15, 14]},
    "encoding": {"x": {"datum": 2223, "axis": null}, "y": {"datum": 0, "axis": null}, "y2": {"datum": 5.79}}},
   {"data": {"values": [{}]}, "mark": {"type": "rule", "strokeWidth": 1, "strokeDash": [15, 13], "clip": false},
    "encoding": {"x": {"datum": 2221, "axis": null}, "y": {"datum": 0, "axis": null}, "x2": {"datum": 2218}, "y2": {"datum": -3.61}}},
   {"data": {"values": [{}]}, "mark": {"type": "rule", "strokeWidth": 1, "strokeDash": [15, 13], "clip": false},
    "encoding": {"x": {"datum": 2223, "axis": null}, "y": {"datum": 0, "axis": null}, "x2": {"datum": 2230}, "y2": {"datum": -3.61}}},
   {"data": {"values": [{}]}, "mark": {"type": "text", "text": "PCI RMS level (10", "dx": 7},
    "encoding": {"x": {"datum": 2218, "axis": null}, "y": {"datum": 4.59, "axis": null}}},
   {"data": {"values": [{}]}, "mark": {"type": "text", "text": "17", "dx": 185, "dy": -11, "fontSize": 15},
    "encoding": {"x": {"datum": 2218, "axis": null}, "y": {"datum": 4.59, "axis": null}}},
   {"data": {"values": [{}]}, "mark": {"type": "text", "text": "m", "dx": 202},
    "encoding": {"x": {"datum": 2218, "axis": null}, "y": {"datum": 4.59, "axis": null}}},
   {"data": {"values": [{}]}, "mark": {"type": "text", "text": "-2", "dx": 219, "dy": -11, "fontSize": 15},
    "encoding": {"x": {"datum": 2218, "axis": null}, "y": {"datum": 4.59, "axis": null}}},
   {"data": {"values": [{}]}, "mark": {"type": "text", "text": ")", "dx": 235},
    "encoding": {"x": {"datum": 2218, "axis": null}, "y": {"datum": 4.59, "axis": null}}}
  ]
 },
 {"width": 440, "height": 78, "view": {"stroke": null}, "data": {"values": [{}]}, "mark": {"type": "text", "text": ""}, "encoding": {}},
 {
  "width": 440, "height": 125,
  "resolve": {"axis": {"x": "independent", "y": "independent"}},
  "layer": [
   {"data": {"name": "db"}, "mark": {"type": "line", "strokeWidth": 1.4},
    "encoding": {
     "x": {"field": "t", "type": "quantitative", "scale": {"domain": [2221, 2223], "nice": false, "zero": false},
           "axis": {"orient": "top", "values": [2221, 2221.5, 2222, 2222.5, 2223], "labels": false, "title": null}},
     "y": {"field": "v", "type": "quantitative", "scale": {"domain": [5, 9], "nice": false, "zero": false},
           "axis": {"orient": "right", "values": [6, 8], "format": "d", "labelFont": "Liberation Serif", "title": null, "labelPadding": 12}}}},
   {"data": {"values": [{}]}, "mark": {"type": "text", "text": "D", "dx": 5},
    "encoding": {"x": {"datum": 2221, "axis": null},
                 "y": {"datum": 8.23, "axis": {"orient": "left", "values": [6, 8], "labels": false, "title": null}}}},
   {"data": {"values": [{}]}, "mark": {"type": "text", "text": "α", "dx": 22, "dy": 11, "fontSize": 19},
    "encoding": {"x": {"datum": 2221, "axis": null}, "y": {"datum": 8.23, "axis": null}}},
   {"data": {"values": [{}]}, "mark": {"type": "text", "text": "emission (a.u.)", "dx": 39},
    "encoding": {"x": {"datum": 2221, "axis": null}, "y": {"datum": 8.23, "axis": null}}}
  ]
 },
 {
  "width": 440, "height": 124,
  "resolve": {"axis": {"x": "independent", "y": "independent"}},
  "layer": [
   {"data": {"name": "pb"}, "mark": {"type": "line", "strokeWidth": 1.4},
    "encoding": {
     "x": {"field": "t", "type": "quantitative", "scale": {"domain": [2221, 2223], "nice": false, "zero": false},
           "axis": {"orient": "bottom", "values": [2221, 2221.5, 2222, 2222.5, 2223], "format": "~f", "labelFont": "Liberation Serif", "title": "Time (ms)", "labelPadding": 11, "titlePadding": 3}},
     "y": {"field": "v", "type": "quantitative", "scale": {"domain": [0, 5], "nice": false, "zero": false},
           "axis": {"orient": "left", "values": [0, 5], "format": "d", "labelFont": "Liberation Serif", "title": null, "labelPadding": 12}}}},
   {"data": {"values": [{}]}, "mark": {"type": "text", "text": "PCI RMS level (10", "dx": 5},
    "encoding": {"x": {"datum": 2221, "axis": {"orient": "top", "values": [2221, 2221.5, 2222, 2222.5, 2223], "labels": false, "title": null}},
                 "y": {"datum": 3.9, "axis": {"orient": "right", "values": [0, 5], "labels": false, "title": null}}}},
   {"data": {"values": [{}]}, "mark": {"type": "text", "text": "17", "dx": 180, "dy": -10, "fontSize": 15},
    "encoding": {"x": {"datum": 2221, "axis": null}, "y": {"datum": 3.9, "axis": null}}},
   {"data": {"values": [{}]}, "mark": {"type": "text", "text": "m", "dx": 200},
    "encoding": {"x": {"datum": 2221, "axis": null}, "y": {"datum": 3.9, "axis": null}}},
   {"data": {"values": [{}]}, "mark": {"type": "text", "text": "-2", "dx": 217, "dy": -10, "fontSize": 15},
    "encoding": {"x": {"datum": 2221, "axis": null}, "y": {"datum": 3.9, "axis": null}}},
   {"data": {"values": [{}]}, "mark": {"type": "text", "text": ")", "dx": 230},
    "encoding": {"x": {"datum": 2221, "axis": null}, "y": {"datum": 3.9, "axis": null}}}
  ]
 }
]
}
